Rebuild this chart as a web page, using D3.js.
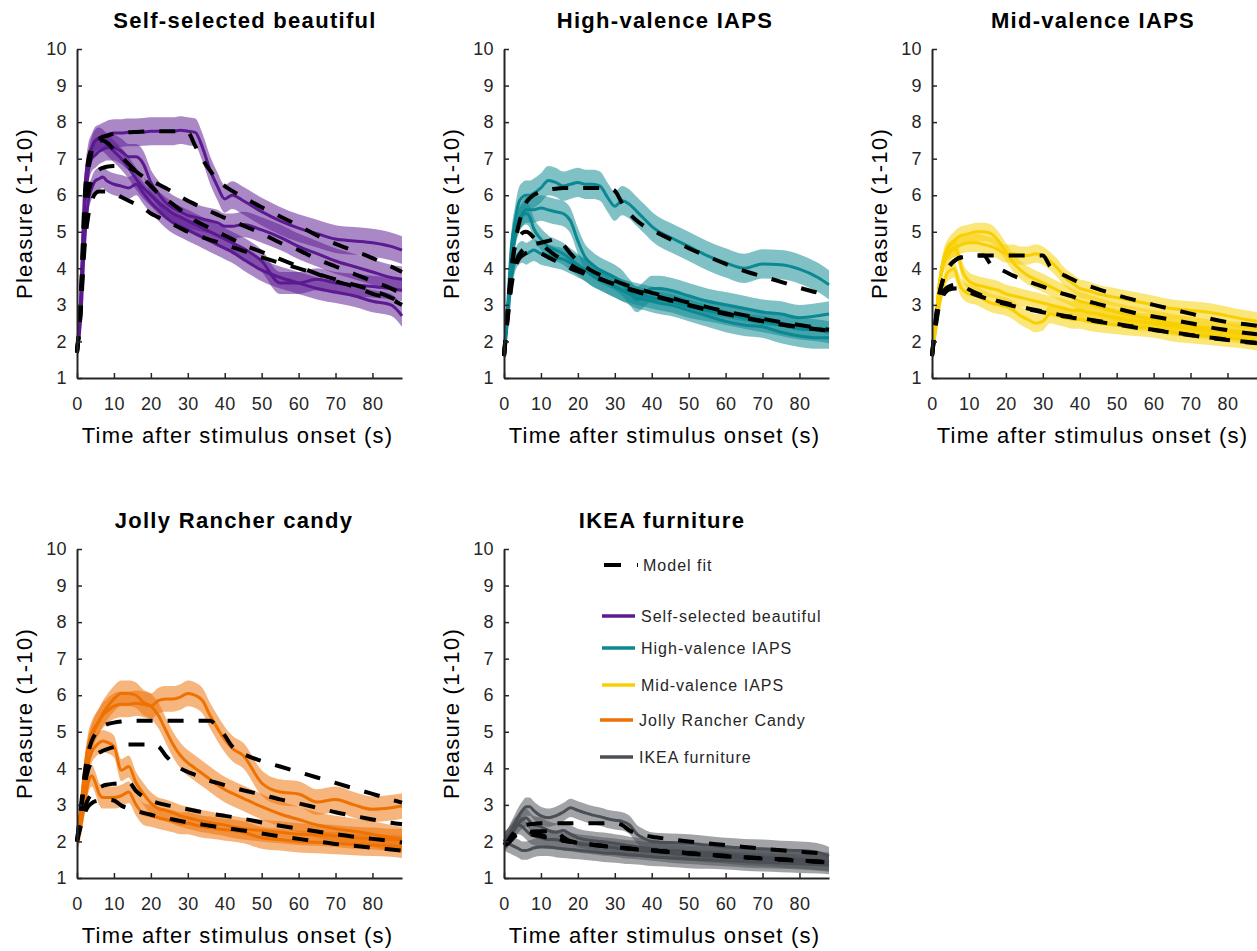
<!DOCTYPE html>
<html lang="en">
<head>
<meta charset="UTF-8">
<title>Pleasure over time</title>
<script src="https://d3js.org/d3.v7.min.js"></script>
<style>
  body { margin: 0; background: #fff; }
  text { font-family: "Liberation Sans", Arial, Helvetica, sans-serif; }
  .axis path, .axis line { stroke: #262626; }
  .axis text { fill: #262626; font-size: 18px; letter-spacing: 0.4px; }
  .band { stroke: none; fill-opacity: 0.52; }
  .mean { fill: none; stroke-width: 3; }
  .fit { fill: none; stroke: #000; stroke-width: 4; stroke-dasharray: 16 15; }
</style>
</head>
<body>
<svg id="canvas" width="1257" height="951"></svg>
<script>
// time after stimulus onset (s); every series below is sampled on this grid
var times = [0,1,2,3,4,5,6,7,8,10,12,14,16,18,20,22,24,26,28,30,32,34,36,38,40,42,45,50,55,60,65,70,75,80,85,88];
var xTicks = [0,10,20,30,40,50,60,70,80];
var yTicks = [1,2,3,4,5,6,7,8,9,10];

var titles = ["Self-selected beautiful", "High-valence IAPS", "Mid-valence IAPS", "Jolly Rancher candy", "IKEA furniture"];
var legendLabels = ["Self-selected beautiful", "High-valence IAPS", "Mid-valence IAPS", "Jolly Rancher Candy", "IKEA furniture"];
var colors = ["#5c1a91", "#0b8891", "#f8cf00", "#ee7203", "#4a4e55"];

// four stimulus durations per category: 1 s, 5 s, 15 s, 30 s
var beautifulMean = [
  [1.7,2.6,4.6,5.8,6.2,6.4,6.45,6.5,6.4, 6.3,6.25,6.2,6.3,6.05,5.8,5.6,5.4,5.25,5.15, 5.05,4.95,4.85,4.75,4.65,4.55,4.45,4.25, 3.95,3.75,3.6,3.45,3.35,3.25,3.1,3.0,2.7],
  [1.7,3.0,5.6,6.8,7.3,7.5,7.55,7.5,7.4, 7.2,7.0,6.75,6.45,6.2,6.0,5.8,5.65,5.5,5.4, 5.3,5.2,5.1,5.0,4.9,4.8,4.7,4.55, 4.2,3.6,3.6,3.7,3.6,3.55,3.5,3.45,3.4],
  [1.7,3.0,5.5,6.6,7.0,7.1,7.2,7.25,7.3, 7.3,7.2,7.05,7.05,6.85,6.35,6.05,5.8,5.65,5.55, 5.45,5.4,5.35,5.3,5.25,5.15,5.15,5.2, 5.05,4.85,4.6,4.4,4.2,4.05,3.9,3.75,3.7],
  [1.7,3.2,6.0,7.0,7.3,7.5,7.55,7.6,7.65, 7.7,7.7,7.72,7.72,7.73,7.75,7.75,7.75,7.75,7.78, 7.75,7.72,7.3,6.7,6.25,5.9,6.0,5.85, 5.55,5.3,5.1,4.95,4.8,4.75,4.7,4.6,4.5]
];
var beautifulFit = [
  [1.7,2.8,4.5,5.4,5.85,6.05,6.1,6.1,6.1, 6.05,5.95,5.85,5.75,5.65,5.5,5.4,5.3,5.2,5.1, 5.0,4.92,4.85,4.78,4.72,4.65,4.58,4.48, 4.3,4.15,4.0,3.85,3.7,3.55,3.4,3.2,3.05],
  [1.7,3.0,5.3,6.6,7.2,7.45,7.5,7.5,7.45, 7.25,7.05,6.85,6.65,6.45,6.25,6.05,5.9,5.75,5.6, 5.45,5.3,5.2,5.1,5.0,4.9,4.8,4.65, 4.45,4.25,4.05,3.85,3.65,3.5,3.3,3.15,3.0],
  [1.7,2.9,5.0,6.0,6.4,6.6,6.7,6.75,6.78, 6.8,6.8,6.75,6.65,6.5,6.4,6.3,6.2,6.08,5.96, 5.85,5.75,5.65,5.56,5.47,5.38,5.3,5.17, 4.95,4.7,4.5,4.25,4.05,3.85,3.65,3.45,3.3],
  [1.7,3.2,5.8,6.9,7.3,7.5,7.55,7.6,7.62, 7.68,7.7,7.72,7.73,7.74,7.75,7.75,7.75,7.75,7.75, 7.72,7.35,6.98,6.68,6.42,6.25,6.12,5.95, 5.67,5.42,5.17,4.9,4.67,4.48,4.28,4.05,3.9]
];
var beautifulSem = [0.3, 0.3, 0.35, 0.38];

var highMean = [
  [1.6,2.6,3.7,4.2,4.4,4.45,4.4,4.45,4.5, 4.4,4.35,4.3,4.25,4.15,4.05,3.95,3.8,3.7,3.6, 3.5,3.4,3.3,3.2,3.15,3.1,3.05,3.0, 2.85,2.7,2.55,2.45,2.4,2.25,2.15,2.1,2.1],
  [1.6,2.8,4.2,4.9,5.3,5.45,5.5,5.4,5.1, 4.8,4.6,4.5,4.4,4.25,4.1,3.95,3.8,3.7,3.6, 3.5,3.4,3.35,3.3,3.25,3.2,3.15,3.1, 2.95,2.85,2.75,2.65,2.55,2.45,2.35,2.3,2.25],
  [1.6,2.8,4.1,4.9,5.3,5.5,5.6,5.6,5.6, 5.65,5.6,5.55,5.5,5.3,4.75,4.3,4.1,3.95,3.85, 3.75,3.6,3.35,3.15,3.3,3.45,3.45,3.4, 3.25,3.1,3.0,2.9,2.8,2.75,2.65,2.7,2.75],
  [1.6,3.0,4.6,5.3,5.8,5.95,6.0,6.0,6.05, 6.2,6.4,6.35,6.25,6.3,6.35,6.3,6.3,6.25,5.95, 5.7,5.85,5.75,5.55,5.35,5.15,5.0,4.85, 4.6,4.35,4.15,4.0,4.12,4.1,3.98,3.75,3.55]
];
var highFit = [
  [1.6,2.6,3.5,4.0,4.25,4.35,4.42,4.45,4.45, 4.4,4.3,4.2,4.1,4.0,3.92,3.84,3.77,3.7,3.63, 3.57,3.5,3.44,3.38,3.33,3.27,3.22,3.14, 3.0,2.88,2.77,2.66,2.56,2.47,2.4,2.33,2.3],
  [1.6,2.9,4.0,4.6,4.85,4.97,5.0,4.95,4.85, 4.68,4.5,4.35,4.22,4.1,3.98,3.88,3.8,3.72,3.64, 3.56,3.49,3.42,3.36,3.3,3.25,3.2,3.12, 2.99,2.86,2.75,2.64,2.55,2.46,2.39,2.33,2.3],
  [1.6,2.7,3.6,4.1,4.35,4.5,4.55,4.6,4.65, 4.7,4.75,4.8,4.65,4.4,4.2,4.05,3.92,3.82,3.74, 3.66,3.58,3.51,3.45,3.39,3.33,3.28,3.2, 3.06,2.94,2.82,2.72,2.62,2.53,2.45,2.37,2.32],
  [1.6,2.8,3.9,4.7,5.2,5.55,5.8,5.92,6.0, 6.1,6.15,6.18,6.2,6.2,6.2,6.2,6.2,6.2,6.2, 6.12,5.78,5.5,5.3,5.15,5.05,4.95,4.8, 4.55,4.33,4.12,3.93,3.78,3.63,3.47,3.33,3.24]
];
var highSem = [0.3, 0.3, 0.35, 0.4];

var midMean = [
  [1.6,2.3,3.0,3.5,3.85,3.95,4.0,3.7,3.45, 3.3,3.25,3.15,3.05,3.0,2.95,2.85,2.7,2.6,2.5, 2.55,2.75,2.7,2.65,2.6,2.6,2.55,2.5, 2.45,2.4,2.35,2.25,2.2,2.15,2.1,2.05,2.0],
  [1.6,2.5,3.5,4.1,4.4,4.5,4.55,4.4,4.0, 3.65,3.55,3.5,3.45,3.4,3.3,3.25,3.2,3.15,3.1, 3.05,3.0,2.95,2.9,2.85,2.85,2.8,2.75, 2.65,2.55,2.5,2.42,2.35,2.3,2.25,2.2,2.2],
  [1.6,2.5,3.6,4.2,4.5,4.65,4.75,4.85,4.9, 4.95,5.0,5.0,4.95,4.75,4.45,4.15,3.95,3.8,3.7, 3.6,3.5,3.4,3.3,3.2,3.1,3.05,2.95, 2.8,2.7,2.6,2.5,2.42,2.36,2.3,2.25,2.2],
  [1.6,2.6,3.6,4.1,4.3,4.45,4.55,4.6,4.65, 4.7,4.7,4.65,4.6,4.5,4.4,4.4,4.35,4.35,4.4, 4.35,4.2,4.0,3.75,3.6,3.45,3.4,3.3, 3.2,3.1,3.0,2.9,2.85,2.8,2.7,2.6,2.55]
];
var midFit = [
  [1.6,2.4,3.0,3.25,3.38,3.43,3.45,3.45,3.43, 3.35,3.27,3.2,3.13,3.07,3.02,2.97,2.92,2.88,2.84, 2.8,2.76,2.72,2.68,2.65,2.62,2.59,2.54, 2.46,2.38,2.31,2.24,2.17,2.1,2.04,1.98,1.95],
  [1.6,2.5,3.1,3.35,3.47,3.52,3.55,3.55,3.53, 3.42,3.32,3.24,3.17,3.1,3.05,3.0,2.95,2.9,2.86, 2.82,2.78,2.74,2.7,2.67,2.64,2.61,2.56, 2.48,2.4,2.32,2.25,2.18,2.11,2.05,1.99,1.96],
  [1.6,2.6,3.3,3.7,3.95,4.1,4.2,4.27,4.3, 4.33,4.35,4.35,4.1,4.0,3.9,3.8,3.72,3.64,3.57, 3.5,3.42,3.35,3.29,3.23,3.15,3.1,3.02, 2.9,2.78,2.68,2.59,2.5,2.39,2.31,2.23,2.2],
  [1.6,2.6,3.3,3.7,3.95,4.1,4.2,4.27,4.3, 4.33,4.35,4.35,4.35,4.35,4.35,4.35,4.35,4.35,4.35, 4.35,4.05,3.9,3.8,3.7,3.6,3.53,3.43, 3.27,3.13,3.0,2.88,2.76,2.63,2.53,2.47,2.43]
];
var midSem = [0.25, 0.25, 0.25, 0.25];

var candyMean = [
  [2.0,2.4,3.0,3.6,3.8,3.6,3.3,3.2,3.2, 3.2,3.25,3.35,3.0,2.75,2.7,2.65,2.6,2.55,2.5, 2.5,2.45,2.4,2.38,2.35,2.32,2.3,2.25, 2.1,2.05,2.0,1.98,1.95,1.92,1.9,1.88,1.85],
  [2.0,2.6,3.4,4.1,4.45,4.6,4.7,4.75,4.72, 4.6,3.95,4.05,3.6,3.3,3.05,2.9,2.85,2.78,2.7, 2.65,2.6,2.55,2.52,2.48,2.45,2.4,2.35, 2.3,2.25,2.2,2.18,2.15,2.1,2.08,2.05,2.05],
  [2.0,2.8,3.8,4.5,4.85,5.1,5.3,5.5,5.65, 5.9,6.05,6.05,6.0,5.8,5.7,5.45,5.05,4.65,4.35, 4.15,4.0,3.85,3.7,3.55,3.42,3.32,3.18, 2.95,2.75,2.6,2.45,2.35,2.28,2.2,2.1,2.05],
  [2.0,2.9,3.9,4.6,4.95,5.15,5.3,5.45,5.55, 5.7,5.75,5.75,5.78,5.75,5.7,5.85,5.9,5.9,5.95, 6.05,6.0,5.85,5.45,5.1,4.79,4.55,4.35, 3.6,3.35,3.3,3.08,3.15,3.0,2.88,2.92,2.97]
];
var candyFit = [
  [2.0,2.4,2.75,2.95,3.05,3.1,3.12,3.13,3.14, 3.12,2.98,2.9,2.84,2.78,2.73,2.68,2.64,2.6,2.56, 2.52,2.49,2.46,2.43,2.4,2.37,2.34,2.3, 2.22,2.14,2.07,2.0,1.93,1.88,1.83,1.78,1.75],
  [2.0,2.5,2.9,3.15,3.3,3.4,3.47,3.52,3.55, 3.58,3.6,3.62,3.38,3.22,3.12,3.05,3.0,2.96,2.92, 2.88,2.84,2.8,2.76,2.73,2.7,2.67,2.62, 2.52,2.43,2.35,2.27,2.2,2.13,2.07,2.01,1.97],
  [2.0,2.8,3.5,3.95,4.2,4.35,4.43,4.48,4.52, 4.58,4.62,4.65,4.65,4.65,4.65,4.6,4.35,4.15,4.0, 3.9,3.82,3.74,3.66,3.6,3.54,3.48,3.4, 3.28,3.15,3.04,2.92,2.8,2.7,2.6,2.51,2.47],
  [2.0,2.9,3.8,4.4,4.75,4.95,5.08,5.15,5.2, 5.25,5.28,5.3,5.3,5.3,5.3,5.3,5.3,5.3,5.3, 5.3,5.3,5.3,5.3,5.15,4.9,4.6,4.4, 4.2,4.05,3.9,3.75,3.6,3.45,3.3,3.15,3.06]
];
var candySem = [0.3, 0.3, 0.35, 0.35];

var ikeaMean = [
  [2.0,1.95,1.9,1.85,1.8,1.75,1.75,1.78,1.82, 1.85,1.85,1.82,1.8,1.78,1.76,1.74,1.72,1.7,1.68, 1.67,1.65,1.63,1.62,1.6,1.58,1.57,1.55, 1.52,1.5,1.48,1.45,1.43,1.41,1.39,1.37,1.35],
  [2.0,2.1,2.25,2.4,2.45,2.4,2.3,2.2,2.15, 2.1,2.05,2.05,2.0,1.98,1.95,1.92,1.9,1.87,1.85, 1.83,1.8,1.78,1.76,1.74,1.72,1.7,1.67, 1.63,1.6,1.57,1.54,1.52,1.5,1.48,1.45,1.42],
  [2.0,2.1,2.2,2.35,2.5,2.6,2.65,2.55,2.45, 2.4,2.3,2.25,2.3,2.2,2.1,2.05,2.02,2.0,1.98, 1.95,1.92,1.88,1.85,1.82,1.8,1.78,1.75, 1.72,1.68,1.65,1.6,1.57,1.54,1.5,1.47,1.45],
  [2.0,2.1,2.3,2.5,2.7,2.85,2.95,2.95,2.85, 2.7,2.65,2.7,2.8,2.92,2.85,2.78,2.72,2.68,2.62, 2.58,2.55,2.45,2.2,2.08,2.0,1.98,1.97, 1.95,1.9,1.85,1.82,1.8,1.77,1.75,1.7,1.6]
];
var ikeaFit = [
  [1.9,1.95,2.05,2.15,2.2,2.22,2.22,2.2,2.18, 2.14,2.1,2.06,2.02,1.99,1.96,1.93,1.9,1.88,1.86, 1.84,1.82,1.8,1.78,1.76,1.75,1.73,1.71, 1.67,1.63,1.59,1.56,1.53,1.5,1.47,1.44,1.42],
  [1.9,1.95,2.05,2.18,2.25,2.28,2.28,2.26,2.24, 2.18,2.12,2.08,2.04,2.0,1.97,1.94,1.91,1.89,1.87, 1.85,1.83,1.81,1.79,1.77,1.76,1.74,1.72, 1.68,1.64,1.6,1.57,1.54,1.51,1.48,1.45,1.43],
  [1.9,1.95,2.05,2.15,2.2,2.23,2.25,2.26,2.27, 2.28,2.28,2.28,2.12,2.0,1.97,1.94,1.91,1.89,1.86, 1.84,1.82,1.8,1.79,1.77,1.76,1.74,1.72, 1.68,1.64,1.61,1.57,1.54,1.51,1.48,1.45,1.43],
  [1.9,2.0,2.15,2.28,2.36,2.41,2.45,2.47,2.48, 2.5,2.5,2.5,2.5,2.5,2.5,2.5,2.5,2.5,2.5, 2.5,2.45,2.3,2.22,2.17,2.13,2.1,2.06, 2.0,1.95,1.9,1.85,1.8,1.76,1.72,1.68,1.66]
];
var ikeaSem = [0.25, 0.25, 0.25, 0.25];

// panel layout (axes origin and title centre, in pixels)
var panels = [
  {mean: beautifulMean, fit: beautifulFit, sem: beautifulSem, left: 77, top: 49, titleX: 245},
  {mean: highMean, fit: highFit, sem: highSem, left: 504, top: 49, titleX: 665},
  {mean: midMean, fit: midFit, sem: midSem, left: 932, top: 49, titleX: 1093},
  {mean: candyMean, fit: candyFit, sem: candySem, left: 77, top: 549, titleX: 234},
  {mean: ikeaMean, fit: ikeaFit, sem: ikeaSem, left: 504, top: 549, titleX: 662}
];

var svg = d3.select('#canvas');
var W = 325, H = 329;

var x = d3.scaleLinear().domain([0, 88]).range([0, W]);
var y = d3.scaleLinear().domain([1, 10]).range([H, 0]);

panels.forEach(function(p, i) {
  var g = svg.append("g").attr("transform", "translate(" + p.left + "," + p.top + ")");
  var col = colors[i];

  var area = function(k) {
    return d3.area()
      .curve(d3.curveMonotoneX)
      .x(function(d, j) { return x(times[j]); })
      .y0(function(d) { return y(d - p.sem[k]); })
      .y1(function(d) { return y(d + p.sem[k]); });
  };
  var line = d3.line()
    .curve(d3.curveMonotoneX)
    .x(function(d, j) { return x(times[j]); })
    .y(function(d) { return y(d); });

  p.mean.forEach(function(s, k) {
    g.append("path").attr("class", "band").attr("fill", col).attr("d", area(k)(s));
  });
  p.mean.forEach(function(s) {
    g.append("path").attr("class", "mean").attr("stroke", col).attr("d", line(s));
  });
  p.fit.forEach(function(s) {
    g.append("path").attr("class", "fit").attr("d", line(s));
  });

  g.append("g").attr("class", "axis")
    .attr("transform", "translate(0," + H + ")")
    .call(d3.axisBottom(x).tickValues(xTicks).tickSizeInner(-5).tickSizeOuter(0).tickPadding(19))
    .call(function(a) { a.select(".domain").attr("stroke-width", 2); a.selectAll(".tick line").attr("stroke-width", 1.5); });
  g.append("g").attr("class", "axis")
    .call(d3.axisLeft(y).tickValues(yTicks).tickSizeInner(-5).tickSizeOuter(0).tickPadding(10))
    .call(function(a) { a.select(".domain").attr("stroke-width", 2); a.selectAll(".tick line").attr("stroke-width", 1.5); });

  g.append("text")
    .attr("x", p.titleX - p.left).attr("y", -21)
    .attr("text-anchor", "middle")
    .attr("font-size", 22).attr("font-weight", "bold")
    .attr("letter-spacing", 1.3)
    .text(titles[i]);

  g.append("text")
    .attr("x", W / 2 - 2).attr("y", H + 65)
    .attr("text-anchor", "middle")
    .attr("font-size", 22).attr("fill", "#000")
    .attr("letter-spacing", 1.2)
    .text("Time after stimulus onset (s)");

  g.append("text")
    .attr("transform", "translate(-45," + (H / 2) + ") rotate(-90)")
    .attr("text-anchor", "middle")
    .attr("font-size", 22).attr("fill", "#000")
    .attr("letter-spacing", 1.3)
    .text("Pleasure (1-10)");
});

// legend inside the IKEA panel
var leg = svg.append("g");
var legendY = [616, 648, 685, 720, 757];

leg.append("line")
  .attr("x1", 604).attr("x2", 638).attr("y1", 565).attr("y2", 565)
  .attr("stroke", "#000").attr("stroke-width", 4).attr("stroke-dasharray", "17 16");
leg.append("text")
  .attr("x", 643).attr("y", 565).attr("dy", "0.35em")
  .attr("font-size", 16).attr("fill", "#262626").attr("letter-spacing", 1)
  .text("Model fit");

legendLabels.forEach(function(name, i) {
  var dx = i >= 3 ? -2 : 0;
  leg.append("line")
    .attr("x1", 602 + dx).attr("x2", 635 + dx)
    .attr("y1", legendY[i]).attr("y2", legendY[i])
    .attr("stroke", colors[i]).attr("stroke-width", 3.5);
  leg.append("text")
    .attr("x", 641 + dx).attr("y", legendY[i]).attr("dy", "0.35em")
    .attr("font-size", 16).attr("fill", "#262626").attr("letter-spacing", 1)
    .text(name);
});
</script>
</body>
</html>
